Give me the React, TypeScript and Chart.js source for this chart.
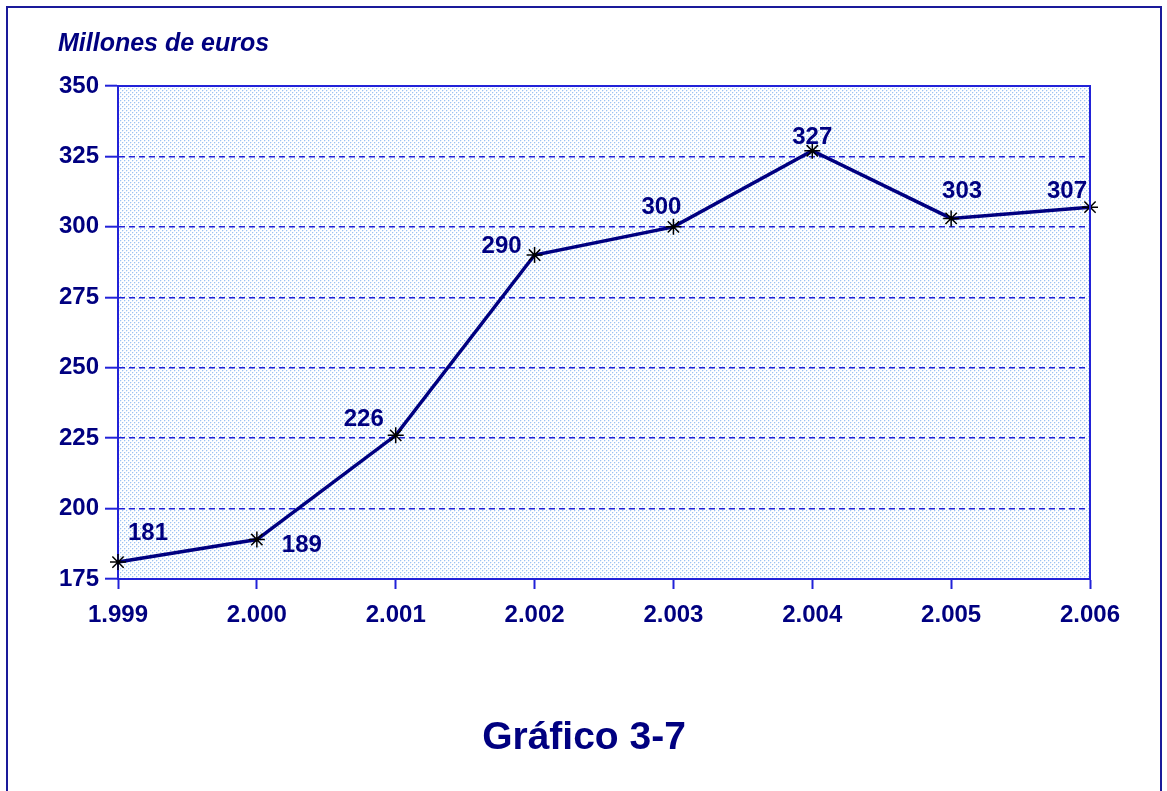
import React, { useEffect, useRef } from "react";
import { Chart, registerables } from "chart.js";

Chart.register(...registerables);

const years = ["1.999", "2.000", "2.001", "2.002", "2.003", "2.004", "2.005", "2.006"];
const values = [181, 189, 226, 290, 300, 327, 303, 307];
const yTicks = [175, 200, 225, 250, 275, 300, 325, 350];
// label offsets relative to each point (dx, dy) in px
const labelDx = [30, 45, -32, -33, -12, 0, 11, -23];
const labelDy = [-29, 6, -16, -9, -19, -13, -27, -16];

const NAVY = "#000080";
const BLUE = "#2222d8";
const FONT = "'Liberation Sans', Arial, sans-serif";

function makePattern(ctx: CanvasRenderingContext2D) {
  const c = document.createElement("canvas");
  c.width = 4;
  c.height = 4;
  const g = c.getContext("2d")!;
  g.fillStyle = "#ffffff";
  g.fillRect(0, 0, 4, 4);
  g.fillStyle = "#9cc2f2";
  g.fillRect(0, 0, 1, 1);
  g.fillRect(2, 2, 1, 1);
  g.fillStyle = "#e2edfb";
  g.fillRect(1, 0, 1, 1);
  g.fillRect(0, 1, 1, 1);
  g.fillRect(3, 2, 1, 1);
  g.fillRect(2, 3, 1, 1);
  return ctx.createPattern(c, "repeat");
}

const decorPlugin = {
  id: "decor",
  beforeDraw(chart: any) {
    const { ctx, chartArea } = chart;
    ctx.save();
    ctx.fillStyle = "#ffffff";
    ctx.fillRect(0, 0, chart.width, chart.height);
    const pat = makePattern(ctx);
    if (pat) {
      ctx.fillStyle = pat;
      ctx.fillRect(chartArea.left, chartArea.top, chartArea.right - chartArea.left, chartArea.bottom - chartArea.top);
    }
    // outer frame
    ctx.strokeStyle = "#1a1a9a";
    ctx.lineWidth = 2;
    ctx.beginPath();
    ctx.moveTo(7, chart.height + 2);
    ctx.lineTo(7, 7);
    ctx.lineTo(1161, 7);
    ctx.lineTo(1161, chart.height + 2);
    ctx.stroke();
    ctx.restore();
  },
  afterDatasetsDraw(chart: any) {
    const { ctx, chartArea } = chart;
    ctx.save();
    // plot border (top & right)
    ctx.strokeStyle = BLUE;
    ctx.lineWidth = 2;
    ctx.beginPath();
    ctx.moveTo(chartArea.left, chartArea.top);
    ctx.lineTo(chartArea.right, chartArea.top);
    ctx.lineTo(chartArea.right, chartArea.bottom);
    ctx.stroke();
    // data labels
    const meta = chart.getDatasetMeta(0);
    ctx.fillStyle = NAVY;
    ctx.font = `bold 24px ${FONT}`;
    ctx.textAlign = "center";
    ctx.textBaseline = "middle";
    meta.data.forEach((pt: any, i: number) => {
      ctx.fillText(String(values[i]), pt.x + labelDx[i], pt.y + labelDy[i]);
    });
    // axis title
    ctx.font = `italic bold 25px ${FONT}`;
    ctx.textAlign = "left";
    ctx.fillText("Millones de euros", 58, 44);
    // chart caption
    ctx.font = `bold 39px ${FONT}`;
    ctx.textAlign = "center";
    ctx.fillText("Gráfico 3-7", 584, 738);
    ctx.restore();
  },
};

export default function App() {
  const ref = useRef<HTMLCanvasElement | null>(null);
  useEffect(() => {
    if (!ref.current) return;
    const chart = new Chart(ref.current, {
      type: "line",
      data: {
        labels: years,
        datasets: [
          {
            data: values,
            borderColor: NAVY,
            borderWidth: 3.5,
            pointStyle: "star",
            pointRadius: 8,
            pointBorderColor: "#000000",
            pointBackgroundColor: "#000000",
            pointBorderWidth: 1.5,
            tension: 0,
            fill: false,
          },
        ],
      },
      options: {
        animation: false,
        responsive: false,
        events: [],
        layout: { padding: { left: 0, top: 86, right: 77, bottom: 0 } },
        plugins: { legend: { display: false }, tooltip: { enabled: false }, title: { display: false } },
        scales: {
          x: {
            offset: false,
            grid: {
              drawOnChartArea: false,
              drawTicks: true,
              tickLength: 10,
              tickColor: BLUE,
              tickWidth: 2,
            },
            border: { display: true, color: BLUE, width: 2 },
            ticks: {
              color: NAVY,
              font: { family: FONT, size: 24, weight: "bold" },
              padding: 12,
              maxRotation: 0,
              autoSkip: false,
            },
            afterFit(scale: any) {
              scale.height = 212;
            },
          },
          y: {
            min: 175,
            max: 350,
            afterBuildTicks(scale: any) {
              scale.ticks = yTicks.map((v) => ({ value: v }));
            },
            grid: {
              color: (c: any) => (c.tick && (c.tick.value === 175 || c.tick.value === 350) ? "rgba(0,0,0,0)" : BLUE),
              lineWidth: 1.4,
              drawTicks: true,
              tickLength: 13,
              tickColor: BLUE,
              tickWidth: 2,
              tickBorderDash: [],
            },
            border: { display: true, color: BLUE, width: 2, dash: [6, 4] },
            ticks: {
              color: NAVY,
              font: { family: FONT, size: 24, weight: "bold" },
              padding: 6,
            },
            afterFit(scale: any) {
              scale.width = 118;
            },
          },
        },
      },
      plugins: [decorPlugin],
    });
    return () => chart.destroy();
  }, []);
  return (
    <div style={{ position: "fixed", left: 0, top: 0, width: 1167, height: 791, background: "#fff" }}>
      <canvas ref={ref} width={1167} height={791} style={{ display: "block" }} />
    </div>
  );
}
